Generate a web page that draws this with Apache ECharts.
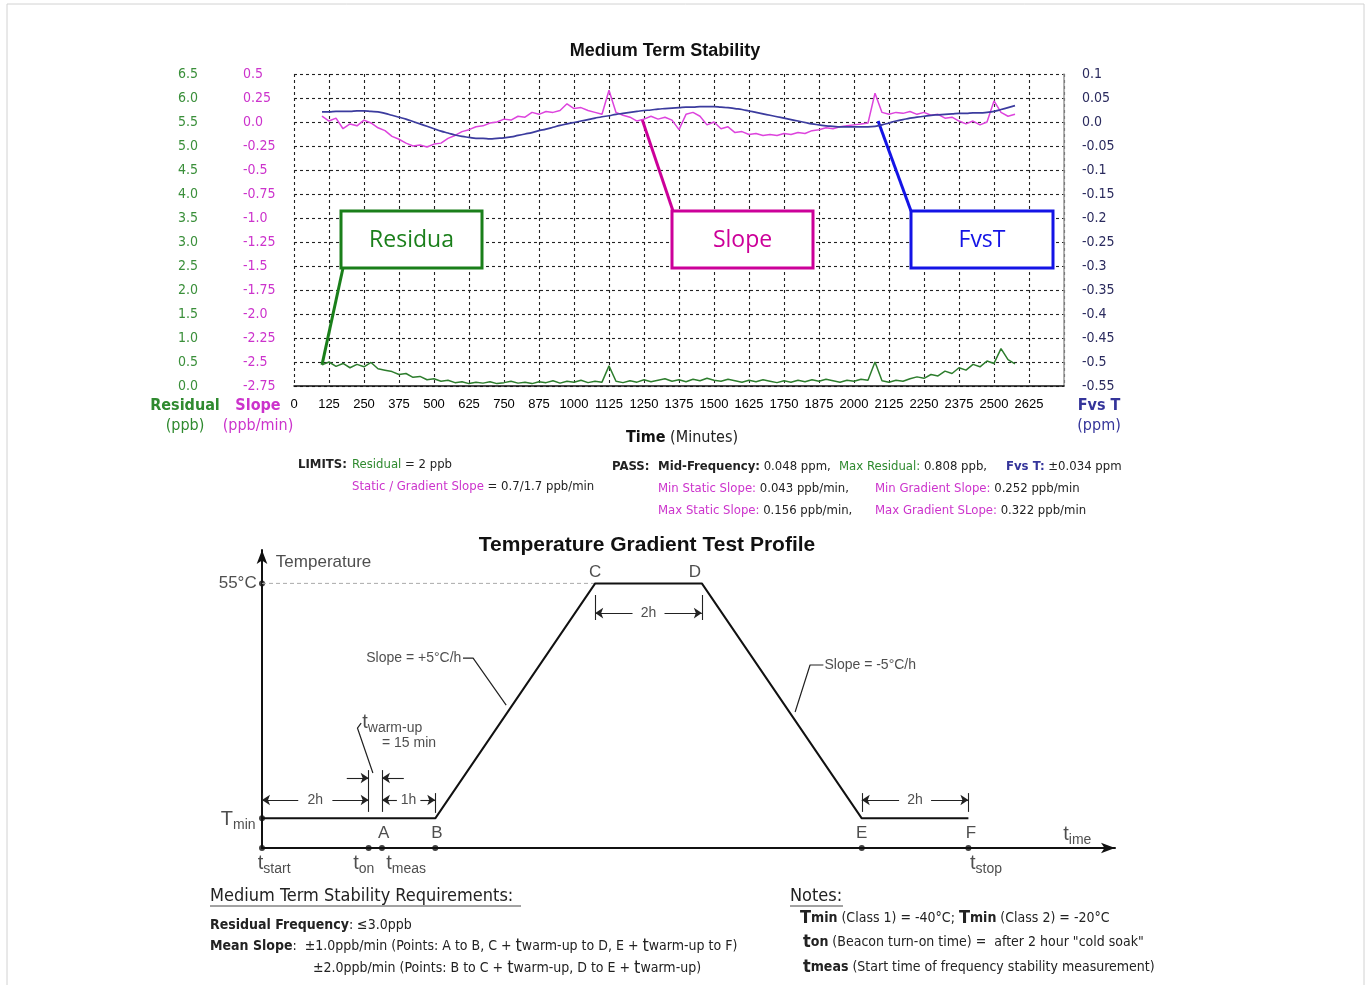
<!DOCTYPE html>
<html><head><meta charset="utf-8">
<script src="https://cdn.jsdelivr.net/npm/echarts@6/dist/echarts.min.js"></script>
<style>html,body{margin:0;padding:0;background:#fff}#c{width:1371px;height:985px}</style>
</head><body><div id="c"></div>
<script>
// ---------------- Medium Term Stability data ----------------
const times = [
100,125,150,175,200,225,250,275,300,325,
350,375,400,425,450,475,500,525,550,575,
600,625,650,675,700,725,750,775,800,825,
850,875,900,925,950,975,1000,1025,1050,1075,
1100,1125,1150,1175,1200,1225,1250,1275,1300,1325,
1350,1375,1400,1425,1450,1475,1500,1525,1550,1575,
1600,1625,1650,1675,1700,1725,1750,1775,1800,1825,
1850,1875,1900,1925,1950,1975,2000,2025,2050,2075,
2100,2125,2150,2175,2200,2225,2250,2275,2300,2325,
2350,2375,2400,2425,2450,2475,2500,2525,2550,2575];
const residual = [
0.44,0.50,0.41,0.47,0.38,0.45,0.40,0.49,0.36,0.33,
0.30,0.24,0.26,0.18,0.20,0.13,0.15,0.10,0.12,0.07,
0.09,0.05,0.08,0.06,0.09,0.05,0.07,0.10,0.06,0.08,
0.05,0.09,0.07,0.11,0.06,0.10,0.08,0.12,0.07,0.10,
0.08,0.42,0.10,0.07,0.11,0.08,0.13,0.09,0.12,0.15,
0.10,0.13,0.09,0.14,0.11,0.16,0.12,0.10,0.14,0.11,
0.08,0.12,0.09,0.13,0.10,0.07,0.11,0.08,0.12,0.09,
0.13,0.10,0.14,0.11,0.08,0.12,0.10,0.14,0.12,0.50,
0.11,0.08,0.12,0.10,0.15,0.19,0.16,0.24,0.21,0.31,
0.26,0.38,0.33,0.45,0.40,0.52,0.47,0.78,0.55,0.46];
const slope = [
0.06,0.01,0.04,-0.07,-0.02,-0.04,0.02,-0.01,-0.06,-0.09,
-0.15,-0.18,-0.22,-0.25,-0.24,-0.26,-0.23,-0.22,-0.17,-0.14,
-0.10,-0.08,-0.05,-0.04,-0.01,0.00,0.03,0.02,0.06,0.05,
0.10,0.08,0.11,0.10,0.12,0.19,0.14,0.15,0.12,0.10,
0.08,0.33,0.10,0.07,0.05,0.01,0.03,0.06,0.03,0.05,
0.02,-0.08,0.08,0.10,0.06,-0.03,0.00,-0.07,-0.05,-0.11,
-0.10,-0.13,-0.12,-0.14,-0.13,-0.14,-0.12,-0.13,-0.11,-0.12,
-0.09,-0.08,-0.06,-0.07,-0.05,-0.04,-0.03,-0.02,-0.01,0.30,
0.10,0.08,0.10,0.09,0.11,0.08,0.10,0.07,0.08,0.04,
0.05,0.01,-0.02,0.01,-0.03,0.00,0.22,0.10,0.06,0.08];
const fvst = [
0.021,0.021,0.022,0.022,0.022,0.023,0.023,0.022,0.021,0.018,
0.014,0.010,0.006,0.001,-0.004,-0.009,-0.014,-0.019,-0.023,-0.027,
-0.030,-0.032,-0.034,-0.034,-0.035,-0.034,-0.033,-0.031,-0.028,-0.025,
-0.022,-0.018,-0.015,-0.011,-0.007,-0.004,-0.001,0.002,0.005,0.008,
0.011,0.013,0.016,0.018,0.020,0.022,0.024,0.025,0.027,0.028,
0.029,0.030,0.031,0.031,0.032,0.032,0.032,0.031,0.030,0.028,
0.026,0.023,0.020,0.017,0.014,0.011,0.008,0.005,0.002,-0.001,
-0.004,-0.006,-0.008,-0.009,-0.010,-0.010,-0.010,-0.010,-0.010,-0.009,
-0.006,-0.002,0.002,0.005,0.008,0.010,0.012,0.014,0.015,0.016,
0.017,0.018,0.018,0.019,0.019,0.020,0.022,0.026,0.030,0.034];

// annotation anchors (time, value on the series' own axis)
const annoLabels = ['Residua', 'Slope', 'FvsT'];
const annoAxis = [0, 1, 2];
const annoAt = [[100, 0.44], [1243, 0.03], [2086, 0.002]];

// ---------------- Temperature profile data (hours, °C) ----------------
const profileT = [0, 3.25, 6.25, 8.25, 11.25, 13.25];
const profileTemp = [-40, -40, 55, 55, -40, -40];
const refLine = [[0, 55], [6.25, 55]];
const eventT = [0, 2, 2.25, 3.25, 11.25, 13.25];
const baseTemp = -52;
const levelDots = [[0, 55], [0, -40]];
const dimSpans = [[0, 2, -32.6, '2h', 0.32], [2.25, 3.25, -32.6, '1h', 0.22], [6.25, 8.25, 43.0, '2h', 0.3], [11.25, 13.25, -32.6, '2h', 0.3]];
const extTicks = [[2, -37.4, -20.5], [2.25, -37.4, -20.5], [3.25, -37.8, -29.8], [6.25, 40.2, 50.3], [8.25, 40.2, 50.3], [11.25, -37.4, -29.8], [13.25, -37.4, -29.8], [0, -35.4, -29.8]];
const warmArrows = [[1.59, 2, -23.7], [2.66, 2.25, -23.7]];
const leaderWarm = [[2.08, -21.7], [1.79, -3.5], [1.86, -1.5]];
const leaderUp = [[3.77, 24.8], [3.96, 24.8], [4.58, 5.8]];
const leaderDown = [[10.53, 22.0], [10.28, 22.0], [10.0, 3.0]];

const COND = "'DejaVu Sans Condensed','DejaVu Sans',sans-serif";
const ARIAL = "'Liberation Sans',Arial,Helvetica,sans-serif";
const GREEN = '#2f8a2f', MAG = '#cc33cc', NAVY = '#34349a';

const chart = echarts.init(document.getElementById('c'));
const pairs = (xs, ys) => xs.map((x, i) => [x, ys[i]]);
const GRID_LINE = {show: true, lineStyle: {color: '#222', width: 1.1, type: [3, 3]}};

function slopeFmt(v) { const r = Math.round(v * 100) / 100; return Math.abs(r * 2 - Math.round(r * 2)) < 1e-9 ? r.toFixed(1) : r.toFixed(2); }
function fvstFmt(v) { const r = Math.round(v * 100) / 100; return r === 0 ? '0.0' : String(r); }

// diagram labels
const DR = {
  m: {fontFamily: ARIAL, fontSize: 17, color: '#222'},
  n: {fontFamily: ARIAL, fontSize: 14, color: '#222'},
  t: {fontFamily: ARIAL, fontSize: 20, color: '#222', verticalAlign: 'bottom'},
  T: {fontFamily: ARIAL, fontSize: 20, color: '#222', verticalAlign: 'bottom'},
  s: {fontFamily: ARIAL, fontSize: 14, color: '#222', verticalAlign: 'bottom', padding: [0, 0, -3, 0]}
};
function dl(x, y, text, align) {
  return {value: [x, y], label: {show: true, position: 'inside', align: align, verticalAlign: 'middle', formatter: text, rich: DR}};
}
const diagLabels = [
  dl(0.26, 63.6, '{m|Temperature}', 'left'),
  dl(-0.1, 55, '{m|55°C}', 'right'),
  dl(-0.12, -40.5, '{T|T}{s|min}', 'right'),
  dl(6.25, 59.4, '{m|C}', 'center'),
  dl(8.12, 59.4, '{m|D}', 'center'),
  dl(2.28, -45.9, '{m|A}', 'center'),
  dl(3.28, -45.9, '{m|B}', 'center'),
  dl(11.25, -45.9, '{m|E}', 'center'),
  dl(13.3, -45.9, '{m|F}', 'center'),
  dl(-0.08, -58.3, '{t|t}{s|start}', 'left'),
  dl(1.71, -58.3, '{t|t}{s|on}', 'left'),
  dl(2.33, -58.3, '{t|t}{s|meas}', 'left'),
  dl(13.28, -58.3, '{t|t}{s|stop}', 'left'),
  dl(15.03, -46.5, '{t|t}{s|ime}', 'left'),
  dl(1.88, -1.2, '{t|t}{s|warm-up}', 'left'),
  dl(2.25, -9.6, '{n|= 15 min}', 'left'),
  dl(3.74, 24.8, '{n|Slope = +5°C/h}', 'right'),
  dl(10.55, 22.0, '{n|Slope = -5°C/h}', 'left')
];
dimSpans.forEach(d => diagLabels.push(dl((d[0] + d[1]) / 2, d[2], '{n|' + d[3] + '}', 'center')));

const markLines = [];
dimSpans.forEach(d => {
  const mid = (d[0] + d[1]) / 2, g = d[4];
  markLines.push([{coord: [mid - g, d[2]], symbol: 'none'}, {coord: [d[0], d[2]], symbol: 'arrow'}]);
  markLines.push([{coord: [mid + g, d[2]], symbol: 'none'}, {coord: [d[1], d[2]], symbol: 'arrow'}]);
});
extTicks.forEach(e => markLines.push([{coord: [e[0], e[1]], symbol: 'none'}, {coord: [e[0], e[2]], symbol: 'none'}]));
warmArrows.forEach(w => markLines.push([{coord: [w[0], w[2]], symbol: 'none'}, {coord: [w[1], w[2]], symbol: 'arrow'}]));

const leaderSeries = [leaderWarm, leaderUp, leaderDown].map(pts => ({
  type: 'line', xAxisIndex: 1, yAxisIndex: 3, data: pts, symbol: 'none', silent: true,
  lineStyle: {color: '#222', width: 1.2}
}));

const option = {
  animation: false,
  backgroundColor: '#fff',
  grid: [{left: 294, top: 74, width: 770, height: 312}, {left: 262, top: 550, width: 853, height: 298}],
  xAxis: [
    {type: 'value', gridIndex: 0, min: 0, max: 2750, interval: 125,
      axisLine: {show: true, onZero: false, lineStyle: {color: '#111', width: 1.5}},
      axisTick: {show: false},
      axisLabel: {margin: 12, fontFamily: ARIAL, fontSize: 13, color: '#000', formatter: v => v >= 2750 ? '' : String(v)},
      splitLine: GRID_LINE},
    {type: 'value', gridIndex: 1, min: 0, max: 16,
      axisLine: {show: true, onZero: false, symbol: ['none', 'arrow'], symbolSize: [8, 14], lineStyle: {color: '#111', width: 2}},
      axisTick: {show: false}, axisLabel: {show: false}, splitLine: {show: false}}
  ],
  yAxis: [
    {type: 'value', gridIndex: 0, min: 0, max: 6.5, interval: 0.5, position: 'left',
      axisLine: {show: false}, axisTick: {show: false},
      axisLabel: {align: 'left', margin: 116, fontFamily: COND, fontSize: 14, color: '#3a8f3a', formatter: v => v.toFixed(1)},
      splitLine: GRID_LINE},
    {type: 'value', gridIndex: 0, min: -2.75, max: 0.5, interval: 0.25, position: 'left',
      axisLine: {show: false}, axisTick: {show: false},
      axisLabel: {align: 'left', margin: 51, fontFamily: COND, fontSize: 14, color: MAG, formatter: slopeFmt},
      splitLine: {show: false}},
    {type: 'value', gridIndex: 0, min: -0.55, max: 0.1, interval: 0.05, position: 'right',
      axisLine: {show: true, onZero: false, lineStyle: {color: '#9a9a9a', width: 1.5}}, axisTick: {show: false},
      axisLabel: {margin: 18, fontFamily: COND, fontSize: 14, color: '#2b2b5e', formatter: fvstFmt},
      splitLine: {show: false}},
    {type: 'value', gridIndex: 1, min: -52, max: 68.5,
      axisLine: {show: true, onZero: false, symbol: ['none', 'arrow'], symbolSize: [8, 14], lineStyle: {color: '#111', width: 2}},
      axisTick: {show: false}, axisLabel: {show: false}, splitLine: {show: false}}
  ],
  series: [
    {name: 'Residual', type: 'line', xAxisIndex: 0, yAxisIndex: 0, data: pairs(times, residual), symbol: 'none',
      lineStyle: {color: '#2d7d2d', width: 1.5}},
    {name: 'Slope', type: 'line', xAxisIndex: 0, yAxisIndex: 1, data: pairs(times, slope), symbol: 'none',
      lineStyle: {color: '#dd44dd', width: 1.5}},
    {name: 'FvsT', type: 'line', xAxisIndex: 0, yAxisIndex: 2, data: pairs(times, fvst), symbol: 'none', smooth: true,
      lineStyle: {color: '#3b3b9e', width: 1.7}},
    {name: 'ref', type: 'line', xAxisIndex: 1, yAxisIndex: 3, data: refLine, symbol: 'none', silent: true,
      lineStyle: {color: '#aaa', width: 1, type: [4, 3]}},
    {name: 'profile', type: 'line', xAxisIndex: 1, yAxisIndex: 3, data: pairs(profileT, profileTemp), symbol: 'none', silent: true,
      lineStyle: {color: '#111', width: 2},
      markLine: {silent: true, animation: false, symbolSize: 8, precision: 3, label: {show: false},
        lineStyle: {color: '#222', width: 1.1, type: 'solid'}, data: markLines}},
    {name: 'dots', type: 'scatter', xAxisIndex: 1, yAxisIndex: 3, clip: false, silent: true, symbolSize: 6,
      itemStyle: {color: '#111'}, data: eventT.map(t => [t, baseTemp]).concat(levelDots)},
    {name: 'labels', type: 'scatter', xAxisIndex: 1, yAxisIndex: 3, clip: false, silent: true, symbolSize: 1,
      itemStyle: {color: 'rgba(0,0,0,0)'}, data: diagLabels}
  ].concat(leaderSeries)
};
chart.setOption(option);

// ---------------- graphic texts / annotations ----------------
function rt(x, y, parts, align, base) {
  let text = ''; const rich = {};
  parts.forEach((p, i) => {
    const k = 's' + i;
    rich[k] = Object.assign({fontFamily: COND, fontSize: 13, fill: '#222', fontWeight: 'normal'}, base || {}, p[1] || {});
    text += '{' + k + '|' + p[0] + '}';
  });
  return {type: 'text', x: x, y: y, silent: true, style: {text: text, rich: rich, align: align || 'left', verticalAlign: 'middle'}};
}
const B = {fontWeight: 'bold'};
const g = [];
g.push({type: 'rect', silent: true, shape: {x: 7, y: 4, width: 1357, height: 995}, style: {fill: 'none', stroke: '#d2d2d2', lineWidth: 1}});
g.push(rt(665, 51, [['Medium Term Stability', {fontFamily: ARIAL, fontSize: 18, fontWeight: 'bold', fill: '#111'}]], 'center'));
g.push(rt(185, 406, [['Residual', {fontWeight: 'bold', fill: GREEN, fontSize: 16}]], 'center'));
g.push(rt(185, 426, [['(ppb)', {fill: GREEN, fontSize: 16}]], 'center'));
g.push(rt(258, 406, [['Slope', {fontWeight: 'bold', fill: MAG, fontSize: 16}]], 'center'));
g.push(rt(258, 426, [['(ppb/min)', {fill: MAG, fontSize: 16}]], 'center'));
g.push(rt(1099, 406, [['Fvs T', {fontWeight: 'bold', fill: NAVY, fontSize: 16}]], 'center'));
g.push(rt(1099, 426, [['(ppm)', {fill: NAVY, fontSize: 16}]], 'center'));
g.push(rt(682, 438, [['Time', {fontWeight: 'bold', fontSize: 16, fill: '#111'}], [' (Minutes)', {fontSize: 16, fill: '#222'}]], 'center'));

// limits / pass block
const SM = {fontSize: 13};
g.push(rt(298, 465, [['LIMITS:', B]], 'left', SM));
g.push(rt(352, 465, [['Residual', {fill: GREEN}], [' = 2 ppb']], 'left', SM));
g.push(rt(352, 487, [['Static / Gradient Slope', {fill: MAG}], [' = 0.7/1.7 ppb/min']], 'left', SM));
g.push(rt(612, 467, [['PASS:', B]], 'left', SM));
g.push(rt(658, 467, [['Mid-Frequency:', B], [' 0.048 ppm,']], 'left', SM));
g.push(rt(839, 467, [['Max Residual:', {fill: GREEN}], [' 0.808 ppb,']], 'left', SM));
g.push(rt(1006, 467, [['Fvs T:', {fill: NAVY, fontWeight: 'bold'}], [' ±0.034 ppm']], 'left', SM));
g.push(rt(658, 489, [['Min Static Slope:', {fill: MAG}], [' 0.043 ppb/min,']], 'left', SM));
g.push(rt(875, 489, [['Min Gradient Slope:', {fill: MAG}], [' 0.252 ppb/min']], 'left', SM));
g.push(rt(658, 511, [['Max Static Slope:', {fill: MAG}], [' 0.156 ppb/min,']], 'left', SM));
g.push(rt(875, 511, [['Max Gradient SLope:', {fill: MAG}], [' 0.322 ppb/min']], 'left', SM));

// annotation boxes with leader lines
const boxes = [[341, 211, 141, 57, 343, 268, '#1a7f1a'], [672, 211, 141, 57, 673, 211, '#cc0099'], [911, 211, 142, 57, 911, 211, '#1414e6']];
annoLabels.forEach((lab, i) => {
  const p = chart.convertToPixel({xAxisIndex: 0, yAxisIndex: annoAxis[i]}, annoAt[i]);
  const b = boxes[i];
  g.push({type: 'line', silent: true, shape: {x1: b[4], y1: b[5], x2: p[0], y2: p[1]}, style: {stroke: b[6], lineWidth: 3}});
  g.push({type: 'rect', silent: true, shape: {x: b[0], y: b[1], width: b[2], height: b[3]}, style: {fill: '#fff', stroke: b[6], lineWidth: 3}});
  g.push(rt(b[0] + b[2] / 2, b[1] + b[3] / 2 + 1, [[lab, {fontFamily: "'Open Sans',sans-serif", fontSize: 23, fill: b[6]}]], 'center'));
});

// bottom section
g.push(rt(647, 545, [['Temperature Gradient Test Profile', {fontFamily: ARIAL, fontSize: 21, fontWeight: 'bold', fill: '#111'}]], 'center'));
g.push(rt(210, 896, [['Medium Term Stability Requirements:', {fontSize: 18, fill: '#222'}]]));
g.push({type: 'line', silent: true, shape: {x1: 210, y1: 906, x2: 521, y2: 906}, style: {stroke: '#444', lineWidth: 1}});
g.push(rt(210, 925, [['Residual Frequency', B], [': ≤3.0ppb']], 'left', {fontSize: 14}));
g.push(rt(210, 946, [['Mean Slope', B], [':  ±1.0ppb/min (Points: A to B, C + '], ['t', {fontSize: 18}], ['warm-up to D, E + '], ['t', {fontSize: 18}], ['warm-up to F)']], 'left', {fontSize: 14}));
g.push(rt(313, 968, [['±2.0ppb/min (Points: B to C + '], ['t', {fontSize: 18}], ['warm-up, D to E + '], ['t', {fontSize: 18}], ['warm-up)']], 'left', {fontSize: 14}));
g.push(rt(790, 896, [['Notes:', {fontSize: 18, fill: '#222'}]]));
g.push({type: 'line', silent: true, shape: {x1: 790, y1: 906, x2: 843, y2: 906}, style: {stroke: '#444', lineWidth: 1}});
g.push(rt(800, 918, [['T', {fontSize: 18, fontWeight: 'bold'}], ['min', B], [' (Class 1) = -40°C; '], ['T', {fontSize: 18, fontWeight: 'bold'}], ['min', B], [' (Class 2) = -20°C']], 'left', {fontSize: 14}));
g.push(rt(803, 942, [['t', {fontSize: 18, fontWeight: 'bold'}], ['on', B], [' (Beacon turn-on time) =  after 2 hour "cold soak"']], 'left', {fontSize: 14}));
g.push(rt(803, 967, [['t', {fontSize: 18, fontWeight: 'bold'}], ['meas', B], [' (Start time of frequency stability measurement)']], 'left', {fontSize: 14}));

chart.setOption({graphic: g});
</script>
</body></html>
